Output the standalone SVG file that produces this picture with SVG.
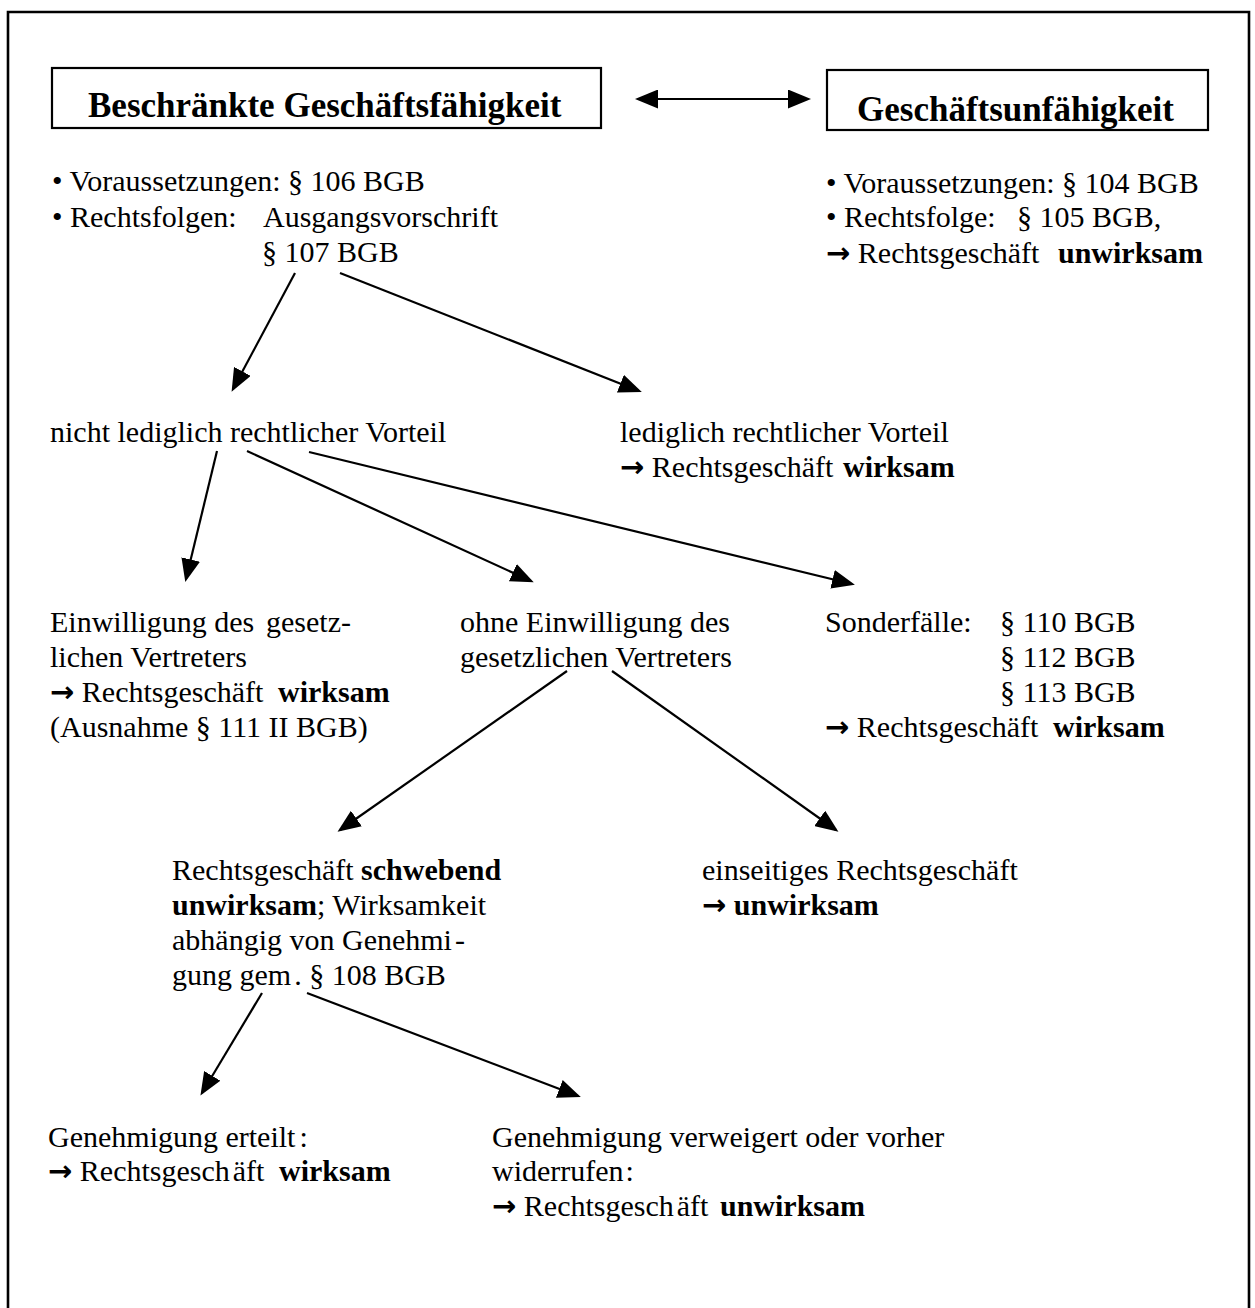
<svg xmlns="http://www.w3.org/2000/svg" width="1255" height="1308" viewBox="0 0 1255 1308">
<style>
text{font-family:"Liberation Serif","Times New Roman",serif;font-size:30px;fill:#000}
.b{font-weight:bold}
.arr{font-family:"DejaVu Sans",sans-serif;font-size:29px;font-weight:bold}
.title{font-weight:bold;font-size:35px}
.box{fill:none;stroke:#000;stroke-width:2.2}
.con{stroke:#000;stroke-width:2.2;fill:none}
</style>
<defs>
<marker id="ah" viewBox="0 0 23 19" markerWidth="23" markerHeight="19" refX="20" refY="9.5" orient="auto-start-reverse" markerUnits="userSpaceOnUse">
<path d="M0,0 L23,9.5 L0,19 z" fill="#000"/>
</marker>
</defs>
<rect width="1255" height="1308" fill="#fff"/>
<path id="frame" d="M8,1310 L8,12 L1249,12 L1249,1310" fill="none" stroke="#000" stroke-width="2.6"/>

<g id="n-beschraenkt">
<rect class="box" x="52" y="68" width="549" height="60"/>
<text class="title" x="88" y="117">Beschränkte Geschäftsfähigkeit</text>
</g>
<g id="n-unfaehig">
<rect class="box" x="827" y="70" width="381" height="60"/>
<text class="title" x="857" y="121">Geschäftsunfähigkeit</text>
</g>
<g id="n-beschraenkt-info">
<text x="52" y="191">• Voraussetzungen: § 106 BGB</text>
<text x="52" y="227">• Rechtsfolgen:<tspan x="263">Ausgangsvorschrift</tspan></text>
<text x="262" y="262">§ 107 BGB</text>
</g>
<g id="n-unfaehig-info">
<text x="826" y="193">• Voraussetzungen: § 104 BGB</text>
<text x="826" y="227">• Rechtsfolge:<tspan x="1017">§ 105 BGB,</tspan></text>
<text x="826" y="263"><tspan class="arr">→</tspan> Rechtsgeschäft<tspan class="b" x="1058">unwirksam</tspan></text>
</g>
<g id="n-nicht-lediglich">
<text x="50" y="442">nicht lediglich rechtlicher Vorteil</text>
</g>
<g id="n-lediglich">
<text x="620" y="442">lediglich rechtlicher Vorteil</text>
<text x="620" y="477"><tspan class="arr">→</tspan> Rechtsgeschäft<tspan class="b" x="843">wirksam</tspan></text>
</g>
<g id="n-einwilligung">
<text x="50" y="632">Einwilligung des<tspan x="266">gesetz-</tspan></text>
<text x="50" y="667">lichen Vertreters</text>
<text x="50" y="702"><tspan class="arr">→</tspan> Rechtsgeschäft<tspan class="b" x="278">wirksam</tspan></text>
<text x="50" y="737">(Ausnahme § 111 II BGB)</text>
</g>
<g id="n-ohne">
<text x="460" y="632">ohne Einwilligung des</text>
<text x="460" y="667">gesetzlichen Vertreters</text>
</g>
<g id="n-sonderfaelle">
<text x="825" y="632">Sonderfälle:<tspan x="1000">§ 110 BGB</tspan></text>
<text x="1000" y="667">§ 112 BGB</text>
<text x="1000" y="702">§ 113 BGB</text>
<text x="825" y="737"><tspan class="arr">→</tspan> Rechtsgeschäft<tspan class="b" x="1053">wirksam</tspan></text>
</g>
<g id="n-schwebend">
<text x="172" y="880">Rechtsgeschäft <tspan class="b">schwebend</tspan></text>
<text x="172" y="915"><tspan class="b">unwirksam</tspan>; Wirksamkeit</text>
<text x="172" y="950">abhängig von Genehmi<tspan dx="3">-</tspan></text>
<text x="172" y="985">gung gem<tspan dx="3">.</tspan> § 108 BGB</text>
</g>
<g id="n-einseitig">
<text x="702" y="880">einseitiges Rechtsgeschäft</text>
<text x="702" y="915"><tspan class="arr">→</tspan> <tspan class="b">unwirksam</tspan></text>
</g>
<g id="n-erteilt">
<text x="48" y="1147">Genehmigung erteilt<tspan dx="4">:</tspan></text>
<text x="48" y="1181"><tspan class="arr">→</tspan> Rechtsgesch<tspan dx="3">äft</tspan><tspan class="b" x="279">wirksam</tspan></text>
</g>
<g id="n-verweigert">
<text x="492" y="1147">Genehmigung verweigert oder vorher</text>
<text x="492" y="1181">widerrufen<tspan dx="2">:</tspan></text>
<text x="492" y="1216"><tspan class="arr">→</tspan> Rechtsgesch<tspan dx="3">äft</tspan><tspan class="b" x="720">unwirksam</tspan></text>
</g>

<g id="connectors">
<line class="con" x1="638" y1="99" x2="808" y2="99" marker-start="url(#ah)" marker-end="url(#ah)"/>
<line class="con" x1="295" y1="273" x2="233" y2="389" marker-end="url(#ah)"/>
<line class="con" x1="340" y1="273" x2="639" y2="391" marker-end="url(#ah)"/>
<line class="con" x1="217" y1="451" x2="186" y2="579" marker-end="url(#ah)"/>
<line class="con" x1="247" y1="451" x2="531" y2="581" marker-end="url(#ah)"/>
<line class="con" x1="309" y1="452" x2="852" y2="584" marker-end="url(#ah)"/>
<line class="con" x1="567" y1="671" x2="340" y2="830" marker-end="url(#ah)"/>
<line class="con" x1="612" y1="671" x2="836" y2="830" marker-end="url(#ah)"/>
<line class="con" x1="262" y1="993" x2="202" y2="1093" marker-end="url(#ah)"/>
<line class="con" x1="307" y1="993" x2="578" y2="1096" marker-end="url(#ah)"/>
</g>
</svg>
